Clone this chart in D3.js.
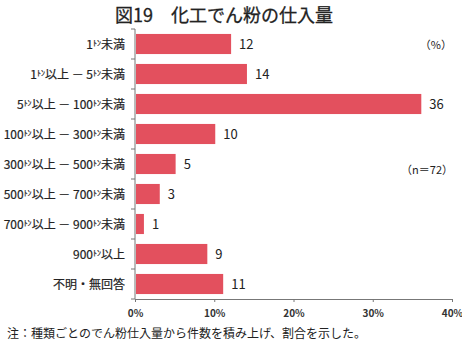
<!DOCTYPE html>
<html><head><meta charset="utf-8">
<script src="https://cdn.jsdelivr.net/npm/d3@7/dist/d3.min.js"></script>
<style>
body{margin:0;background:#fff;}
text{font-family:"Noto Sans CJK JP","Noto Sans",sans-serif;fill:#222;}
</style></head>
<body><svg id="c" width="462" height="342"></svg>
<script>
// 仕入量の区分（数値部分と単位・区分語を分けて保持）
const categories = [
  ["1","ﾄﾝ","未満"],
  ["1","ﾄﾝ","以上 － 5","ﾄﾝ","未満"],
  ["5","ﾄﾝ","以上 － 100","ﾄﾝ","未満"],
  ["100","ﾄﾝ","以上 － 300","ﾄﾝ","未満"],
  ["300","ﾄﾝ","以上 － 500","ﾄﾝ","未満"],
  ["500","ﾄﾝ","以上 － 700","ﾄﾝ","未満"],
  ["700","ﾄﾝ","以上 － 900","ﾄﾝ","未満"],
  ["900","ﾄﾝ","以上"],
  ["不明・無回答"]
];
const values = [12, 14, 36, 10, 5, 3, 1, 9, 11];
const tickValues = [0, 10, 20, 30, 40];
const tickLabels = ["0%", "10%", "20%", "30%", "40%"];

const svg = d3.select("#c");
const plotL = 135, plotR = 452, plotT = 29, plotB = 299;

const x = d3.scaleLinear().domain([0, 40]).range([plotL, plotR]);
const y = d3.scaleBand().domain(d3.range(categories.length)).range([plotT, plotB]).paddingInner(0.33).paddingOuter(0.165);

// タイトル
svg.append("text").attr("x", 224).attr("y", 22).attr("text-anchor", "middle")
  .style("font-size", "18px").style("fill", "#222").style("stroke", "#222").style("stroke-width", "0.3")
  .text("図19　化工でん粉の仕入量");

// 棒
svg.selectAll("rect.bar").data(values).join("rect").attr("class", "bar")
  .attr("x", x(0) + 1).attr("y", (d, i) => y(i))
  .attr("width", d => x(d) - x(0)).attr("height", y.bandwidth())
  .attr("fill", "#E3505E");

// 値ラベル
svg.selectAll("text.val").data(values).join("text").attr("class", "val")
  .attr("x", d => x(d) + 9).attr("y", (d, i) => y(i) + y.bandwidth() / 2 + 5)
  .style("font-size", "13px").text(d => d);

// 縦軸
const yAxisG = svg.append("g").attr("transform", `translate(${plotL},0)`);
yAxisG.append("line").attr("x1", 0).attr("x2", 0).attr("y1", plotT).attr("y2", plotB).attr("stroke", "#777");
const step = (plotB - plotT) / categories.length;
d3.range(categories.length + 1).forEach(k => {
  yAxisG.append("line").attr("x1", -4).attr("x2", 0)
    .attr("y1", plotT + k * step).attr("y2", plotT + k * step).attr("stroke", "#777");
});

// 区分ラベル（ﾄﾝは小さく上付き）
categories.forEach((parts, i) => {
  const t = svg.append("text").attr("x", 125).attr("y", y(i) + y.bandwidth() / 2 + 4.5)
    .attr("text-anchor", "end").style("font-size", "12px").style("fill", "#222")
    .style("stroke", "#222").style("stroke-width", "0.2");
  let prevUnit = false;
  parts.forEach(p => {
    const s = t.append("tspan").text(p);
    if (p === "ﾄﾝ") { s.style("font-size", "8px").attr("dy", -3); prevUnit = true; }
    else { if (prevUnit) s.attr("dy", 3); prevUnit = false; }
  });
});

// 横軸
const xAxis = d3.axisBottom(x).tickValues(tickValues).tickFormat((d, i) => tickLabels[i]).tickSize(3).tickSizeOuter(0);
const xg = svg.append("g").attr("transform", `translate(0,${plotB})`).call(xAxis);
xg.select(".domain").attr("stroke", "#777");
xg.selectAll(".tick line").attr("stroke", "#777");
xg.selectAll(".tick text").attr("dy", "1.2em").style("font-size", "10px").style("font-weight", "bold").style("fill", "#333");

// 注記
svg.append("text").attr("x", 452).attr("y", 49).attr("text-anchor", "end").style("font-size", "11px").text("（%）");
svg.append("text").attr("x", 453).attr("y", 174).attr("text-anchor", "end").style("font-size", "11px").text("（n＝72）");
svg.append("text").attr("x", 7).attr("y", 338).style("font-size", "12px")
  .text("注：種類ごとのでん粉仕入量から件数を積み上げ、割合を示した。");
</script></body></html>
